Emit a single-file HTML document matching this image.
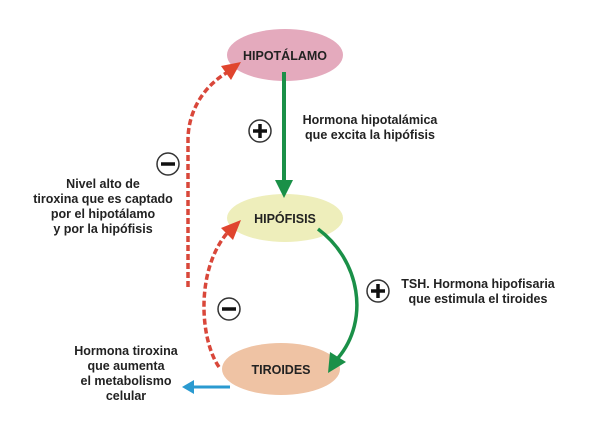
<!DOCTYPE html>
<html><head><meta charset="utf-8"><style>
body{margin:0;background:#fff;width:600px;height:418px;overflow:hidden}
svg text{font-family:"Liberation Sans",Arial,sans-serif;font-weight:bold;font-size:12.5px;fill:#222}
</style></head><body>
<svg width="600" height="418" viewBox="0 0 600 418">
<defs>
<marker id="g" markerWidth="6" markerHeight="6" refX="3" refY="3" orient="auto" markerUnits="userSpaceOnUse"><path d="M0,0 L6,3 L0,6 z" fill="#1a9048"/></marker>
</defs>
<ellipse cx="285" cy="55" rx="58" ry="26" fill="#e4aabd"/>
<ellipse cx="285" cy="218" rx="58" ry="24" fill="#eeeebb"/>
<ellipse cx="281" cy="369" rx="59" ry="26" fill="#efc3a4"/>
<text x="285" y="60" text-anchor="middle" font-size="13">HIPOTÁLAMO</text>
<text x="285" y="223" text-anchor="middle" font-size="13">HIPÓFISIS</text>
<text x="281" y="374" text-anchor="middle" font-size="13">TIROIDES</text>
<!-- green vertical -->
<line x1="284" y1="72" x2="284" y2="182" stroke="#1a9048" stroke-width="4"/>
<path d="M275,180 L293,180 L284,198 z" fill="#1a9048"/>
<!-- green curve -->
<path d="M318,229 C360,260 370,320 338,358" fill="none" stroke="#1a9048" stroke-width="3.5"/>
<path d="M330,352 L346,362 L328,373 z" fill="#1a9048"/>
<!-- red dashed outer -->
<path d="M188,287 L188,140 C188,110 205,85 228,72" fill="none" stroke="#d9473a" stroke-width="3.5" stroke-dasharray="6,3"/>
<path d="M221,66 L241,62 L231,80 z" fill="#e0452e"/>
<!-- red dashed inner -->
<path d="M219,367 C200,340 195,270 228,232" fill="none" stroke="#d9473a" stroke-width="3.5" stroke-dasharray="6,3"/>
<path d="M221,228 L241,220 L233,240 z" fill="#e0452e"/>
<!-- blue -->
<line x1="230" y1="387" x2="192" y2="387" stroke="#2a9ad0" stroke-width="3"/>
<path d="M182,387 L194,380 L194,394 z" fill="#2a9ad0"/>
<!-- circles -->
<g stroke="#333" stroke-width="1.5" fill="#fff">
<circle cx="260" cy="131" r="11"/><circle cx="378" cy="291" r="11"/>
<circle cx="168" cy="164" r="11"/><circle cx="229" cy="309" r="11"/>
</g>
<g stroke="#111" stroke-width="3.5">
<line x1="253" y1="131" x2="267" y2="131"/><line x1="260" y1="124" x2="260" y2="138"/>
<line x1="371" y1="291" x2="385" y2="291"/><line x1="378" y1="284" x2="378" y2="298"/>
<line x1="161" y1="164" x2="175" y2="164"/><line x1="222" y1="309" x2="236" y2="309"/>
</g>
<text x="370" y="124" text-anchor="middle">Hormona hipotalámica</text>
<text x="370" y="139" text-anchor="middle">que excita la hipófisis</text>
<text x="103" y="188" text-anchor="middle">Nivel alto de</text>
<text x="103" y="203" text-anchor="middle">tiroxina que es captado</text>
<text x="103" y="218" text-anchor="middle">por el hipotálamo</text>
<text x="103" y="233" text-anchor="middle">y por la hipófisis</text>
<text x="478" y="288" text-anchor="middle">TSH. Hormona hipofisaria</text>
<text x="478" y="303" text-anchor="middle">que estimula el tiroides</text>
<text x="126" y="355" text-anchor="middle">Hormona tiroxina</text>
<text x="126" y="370" text-anchor="middle">que aumenta</text>
<text x="126" y="385" text-anchor="middle">el metabolismo</text>
<text x="126" y="400" text-anchor="middle">celular</text>
</svg>
</body></html>
